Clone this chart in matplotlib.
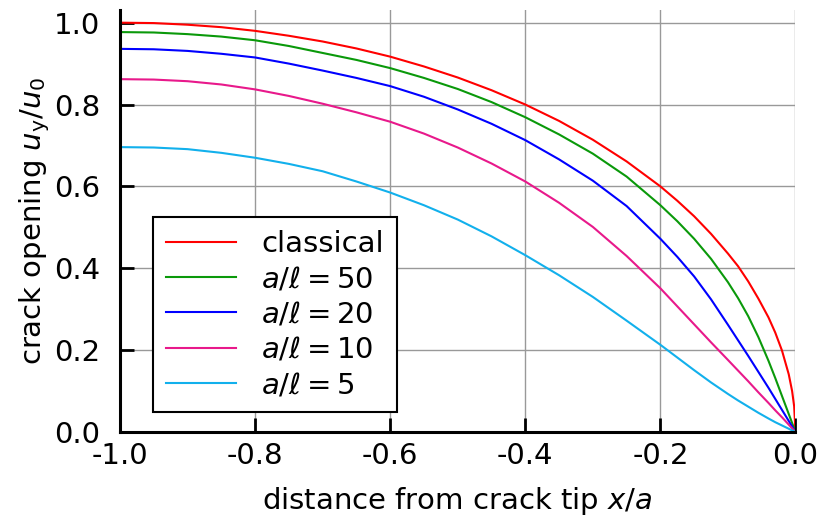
import numpy as np
import matplotlib
matplotlib.use("Agg")
import matplotlib.pyplot as plt

plt.rcParams['font.family'] = ['DejaVu Sans']
plt.rcParams['mathtext.fontset'] = 'dejavusans'
plt.rcParams['axes.unicode_minus'] = False

x_classical = [-1.0, -0.95, -0.9, -0.85, -0.8, -0.75, -0.7, -0.65, -0.6, -0.55, -0.5,
               -0.45, -0.4, -0.35, -0.3, -0.25, -0.2, -0.175, -0.15, -0.125, -0.1,
               -0.085, -0.07, -0.055, -0.04, -0.03, -0.02, -0.01, -0.005, -0.002, 0.0]
u_classical = [1.0, 0.999, 0.995, 0.989, 0.980, 0.968, 0.954, 0.937, 0.917, 0.893, 0.866,
               0.835, 0.800, 0.760, 0.714, 0.661, 0.600, 0.565, 0.527, 0.484, 0.436,
               0.405, 0.368, 0.326, 0.280, 0.243, 0.199, 0.141, 0.100, 0.063, 0.0]

x_gen = [-1.0, -0.95, -0.9, -0.85, -0.8, -0.75, -0.7, -0.65, -0.6, -0.55, -0.5,
         -0.45, -0.4, -0.35, -0.3, -0.25, -0.2, -0.175, -0.15, -0.125, -0.1,
         -0.085, -0.07, -0.055, -0.04, -0.03, -0.02, -0.01, 0.0]
u_50 = [0.977, 0.976, 0.972, 0.966, 0.957, 0.943, 0.926, 0.909, 0.889, 0.865, 0.838,
        0.806, 0.769, 0.727, 0.680, 0.624, 0.554, 0.515, 0.472, 0.423, 0.366,
        0.327, 0.283, 0.232, 0.174, 0.132, 0.088, 0.044, 0.0]
u_20 = [0.936, 0.935, 0.931, 0.924, 0.915, 0.900, 0.883, 0.865, 0.845, 0.819, 0.788,
        0.753, 0.713, 0.666, 0.614, 0.552, 0.472, 0.428, 0.380, 0.324, 0.262,
        0.224, 0.186, 0.147, 0.108, 0.081, 0.054, 0.027, 0.0]
u_10 = [0.862, 0.861, 0.857, 0.849, 0.837, 0.821, 0.802, 0.781, 0.758, 0.729, 0.695,
        0.656, 0.612, 0.560, 0.501, 0.430, 0.351, 0.307, 0.263, 0.219, 0.176,
        0.150, 0.124, 0.097, 0.071, 0.053, 0.036, 0.018, 0.0]
u_5 = [0.696, 0.695, 0.691, 0.682, 0.670, 0.655, 0.637, 0.612, 0.585, 0.554, 0.519,
       0.478, 0.432, 0.383, 0.330, 0.272, 0.213, 0.182, 0.151, 0.121, 0.093,
       0.077, 0.062, 0.047, 0.033, 0.024, 0.016, 0.008, 0.0]

labels = ['classical', r'$a/\ell = 50$', r'$a/\ell = 20$', r'$a/\ell = 10$', r'$a/\ell = 5$']
colors = ['#ff0000', '#0a990a', '#0000ff', '#e8198b', '#12b0ec']

xticks = [-1.0, -0.8, -0.6, -0.4, -0.2, 0.0]
xtick_labels = ['-1.0', '-0.8', '-0.6', '-0.4', '-0.2', '0.0']
yticks = [0.0, 0.2, 0.4, 0.6, 0.8, 1.0]
ytick_labels = ['0.0', '0.2', '0.4', '0.6', '0.8', '1.0']

fig = plt.figure(figsize=(8.19, 5.17), dpi=100)
ax = fig.add_axes([0.1465, 0.1644, 0.8248, 0.8163])

series = [(x_classical, u_classical), (x_gen, u_50), (x_gen, u_20), (x_gen, u_10), (x_gen, u_5)]
for (xs, us), lab, c in zip(series, labels, colors):
    ax.plot(xs, us, color=c, lw=1.5, label=lab)

ax.set_xlim(-1.0, 0.0)
ax.set_ylim(0.0, 1.031)
ax.set_xticks(xticks)
ax.set_xticklabels(xtick_labels)
ax.set_yticks(yticks)
ax.set_yticklabels(ytick_labels)

ax.grid(True, color='#999999', lw=1.0)
ax.set_axisbelow(True)
for s in ['top', 'right']:
    ax.spines[s].set_visible(False)
for s in ['left', 'bottom']:
    ax.spines[s].set_linewidth(2.2)
ax.tick_params(direction='in', length=10, width=2, labelsize=21, top=False, right=False)
ax.tick_params(axis='x', pad=7)
ax.tick_params(axis='y', pad=14)

ax.set_xlabel('distance from crack tip $x/a$', fontsize=21, labelpad=11)
ax.set_ylabel(r'crack opening $u_\mathrm{y}/u_0$', fontsize=21, labelpad=2)

leg = ax.legend(loc='lower left', bbox_to_anchor=(0.049, 0.047), borderaxespad=0,
                fontsize=21, handlelength=2.4, handletextpad=0.85, labelspacing=0.25,
                fancybox=False, framealpha=1, edgecolor='black', borderpad=0.45)
leg.get_frame().set_linewidth(1.5)

plt.savefig('out.png', dpi=100)
